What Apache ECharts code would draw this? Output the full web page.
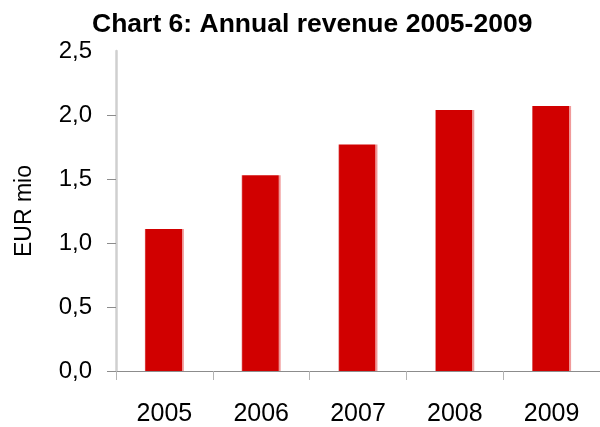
<!DOCTYPE html>
<html>
<head>
<meta charset="utf-8">
<script src="https://cdn.jsdelivr.net/npm/echarts@6/dist/echarts.min.js"></script>
<style>html,body{margin:0;padding:0;background:#fff;}#c{width:600px;height:427px;}</style>
</head>
<body>
<div id="c"></div>
<script>
const titleText = 'Chart 6: Annual revenue 2005-2009';
const categories = ['2005', '2006', '2007', '2008', '2009'];
const revenue = [1.11, 1.53, 1.77, 2.04, 2.07];
const yAxisName = 'EUR mio';
const yTicks = [0, 0.5, 1.0, 1.5, 2.0, 2.5];

const chart = echarts.init(document.getElementById('c'), null, {renderer: 'canvas'});
const barColor = new echarts.graphic.LinearGradient(0, 0, 1, 0, [
  {offset: 0, color: '#e07070'},
  {offset: 0.03, color: '#d10000'},
  {offset: 0.94, color: '#d10000'},
  {offset: 0.95, color: '#ee8e8e'},
  {offset: 1, color: '#f2a0a0'}
]);
chart.setOption({
  animation: false,
  backgroundColor: '#ffffff',
  title: {
    text: titleText,
    left: 87,
    top: 6,
    textStyle: {fontFamily: 'Liberation Sans, Arial, sans-serif', fontWeight: 'bold', fontSize: 26.5, color: '#000'}
  },
  grid: {left: 116, top: 51, width: 490, height: 320, containLabel: false},
  xAxis: {
    type: 'category',
    data: categories,
    boundaryGap: true,
    axisLine: {show: true, lineStyle: {color: '#8c8c8c', width: 1}},
    axisTick: {show: true, length: 9, lineStyle: {color: '#b4b4b4', width: 1}},
    axisLabel: {margin: 31, fontFamily: 'Liberation Sans, Arial, sans-serif', fontSize: 25, color: '#000'},
    splitLine: {show: false}
  },
  yAxis: {
    type: 'value',
    min: 0, max: 2.5, interval: 0.5,
    name: yAxisName,
    nameLocation: 'middle',
    nameRotate: 90,
    nameGap: 80,
    nameTextStyle: {fontFamily: 'Liberation Sans, Arial, sans-serif', fontSize: 23, color: '#000'},
    axisLine: {show: true, lineStyle: {color: '#cfcfcf', width: 2.5}},
    axisTick: {show: true, length: 9, customValues: yTicks.slice(0, 5), lineStyle: {color: '#8c8c8c', width: 1}},
    axisLabel: {
      margin: 24,
      fontFamily: 'Liberation Sans, Arial, sans-serif', fontSize: 24, color: '#000',
      formatter: v => v.toFixed(1).replace('.', ',')
    },
    splitLine: {show: false}
  },
  series: [{
    type: 'bar',
    data: revenue,
    barWidth: 39,
    itemStyle: {color: barColor}
  }]
});
</script>
</body>
</html>
